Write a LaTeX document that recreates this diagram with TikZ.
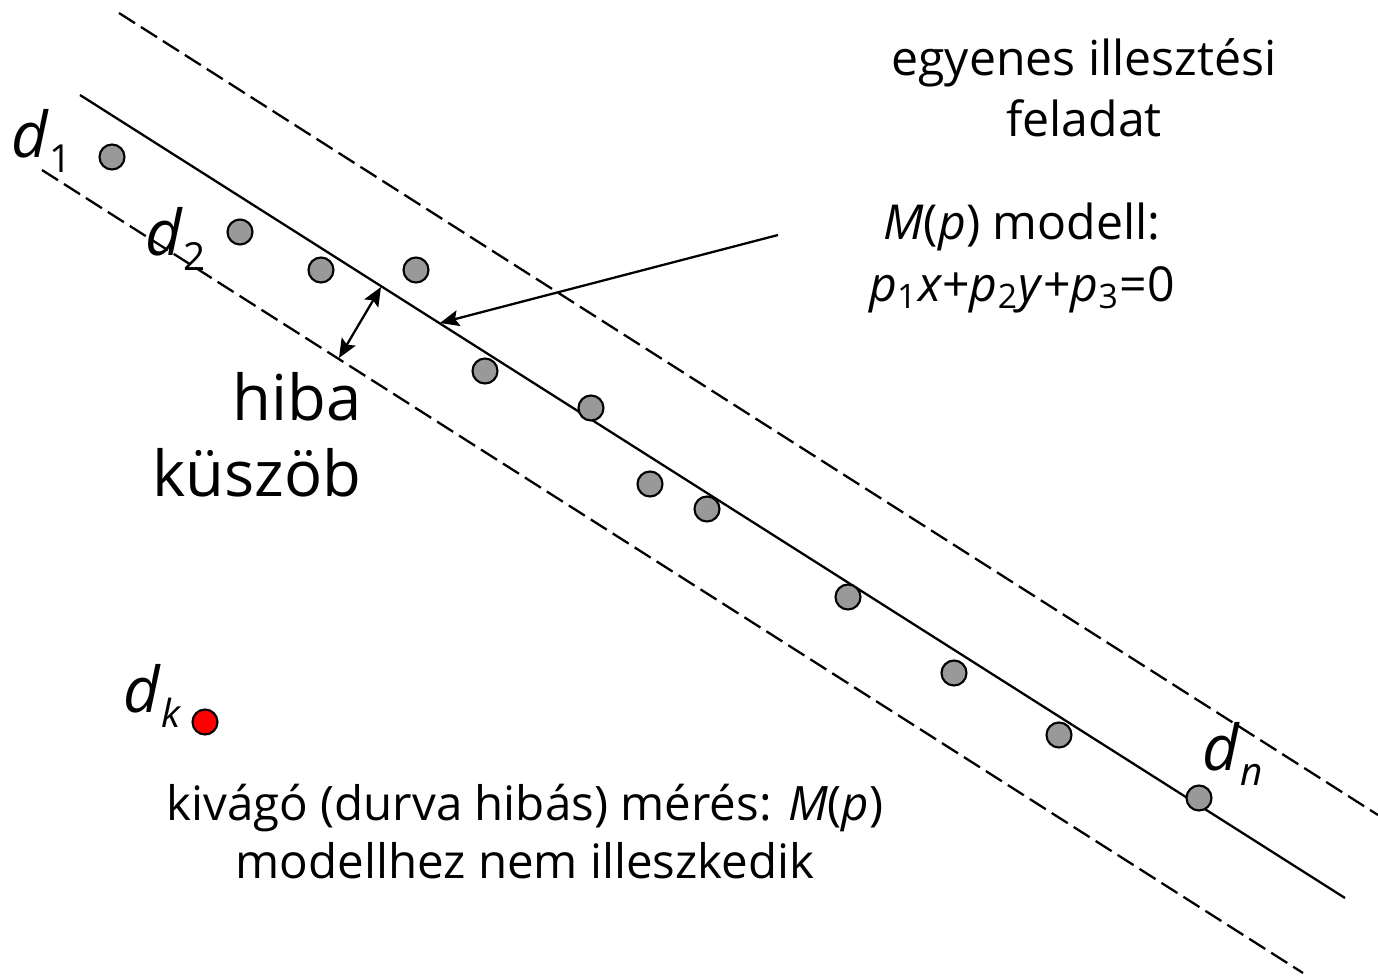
\documentclass[tikz,border=0pt]{standalone}
\usepackage{fontspec}
\setmainfont{Open Sans}
\usetikzlibrary{arrows.meta, calc, positioning}
\definecolor{ptGrey}{HTML}{999999}
\definecolor{ptRed}{HTML}{FF0000}
\newcommand{\dsub}[1]{\textit{d}\raisebox{-0.25em}{\fontsize{11}{13}\selectfont #1}}
\tikzset{
  fitline/.style  = {black, line width=0.65pt},
  bandline/.style = {black, line width=0.65pt, dash pattern=on 5.4pt off 2pt},
  meas/.style     = {circle, draw=black, fill=ptGrey, line width=0.6pt,
                     minimum size=0.25cm, inner sep=0pt},
  outlier/.style  = {meas, fill=ptRed},
  ptlbl/.style    = {font=\fontsize{18}{22}\selectfont, inner sep=0pt},
  lbl/.style      = {font=\fontsize{13.7}{17.5}\selectfont, align=center},
  biglbl/.style   = {font=\fontsize{18}{21.5}\selectfont, align=right, inner sep=0pt},
  ptr/.style      = {-{Stealth[length=1.9mm, width=1.6mm, inset=0.35mm]}, line width=0.65pt},
  dptr/.style     = {{Stealth[length=1.9mm, width=1.6mm, inset=0.35mm]}-{Stealth[length=1.9mm, width=1.6mm, inset=0.35mm]},
                     line width=0.65pt},
}

\begin{document}
\begin{tikzpicture}[x=0.01cm, y=-0.01cm]
  \useasboundingbox (0,0) rectangle (1378,975);

  % fitted line and threshold band
  \coordinate (fitA) at (80,95);
  \coordinate (fitB) at (1345,898);
  \coordinate (upA)  at (119,13);
  \coordinate (upB)  at (1378,815);
  \coordinate (loA)  at (42,170);
  \coordinate (loB)  at (1303,973);
  \draw[fitline]  (fitA) -- (fitB);
  \draw[bandline] (upA) -- (upB);
  \draw[bandline] (loA) -- (loB);

  % measurements
  \node[meas] (d1)  at (112,157) {};
  \node[meas] (d2)  at (240,232) {};
  \node[meas] (d3)  at (321,270) {};
  \node[meas] (d4)  at (416,270) {};
  \node[meas] (d5)  at (485,371) {};
  \node[meas] (d6)  at (591,408) {};
  \node[meas] (d7)  at (650,484) {};
  \node[meas] (d8)  at (707,509) {};
  \node[meas] (d9)  at (848,597) {};
  \node[meas] (d10) at (954,673) {};
  \node[meas] (d11) at (1059,735) {};
  \node[meas] (dn)  at (1199,798) {};
  \node[outlier] (dk) at (205,722) {};

  \node[ptlbl, anchor=base west] (lbl1) at (11,157)  {\dsub{1}};
  \node[ptlbl, anchor=base west] (lbl2) at (145,255) {\dsub{2}};
  \node[ptlbl, anchor=base west] (lblk) at (123,712) {\dsub{\textit{k}}};
  \node[ptlbl, anchor=base west] (lbln) at (1202,770) {\dsub{\textit{n}}};

  % threshold
  \coordinate (thrtop) at (381,287);
  \coordinate (thrbot) at (339,358);
  \draw[dptr] (thrtop) -- (thrbot);
  \node[biglbl, anchor=east] (thr) at (362,435) {hiba\\küszöb};

  % model
  \node[lbl] (task)  at (1084,88)  {egyenes illesztési\\feladat};
  \node[lbl] (model) at (1022,258) {\textit{M}(\textit{p}) modell:\\
    \textit{p}\textsubscript{1}\textit{x}+\textit{p}\textsubscript{2}\textit{y}+\textit{p}\textsubscript{3}=0};
  \coordinate (mtail) at (778,235);
  \coordinate (mhead) at (440,323);
  \draw[ptr] (mtail) -- (mhead);

  \node[lbl, font=\fontsize{13.5}{16.5}\selectfont] (outl) at (525,832)
    {kivágó (durva hibás) mérés: \textit{M}(\textit{p})\\modellhez nem illeszkedik};
\end{tikzpicture}
\end{document}
